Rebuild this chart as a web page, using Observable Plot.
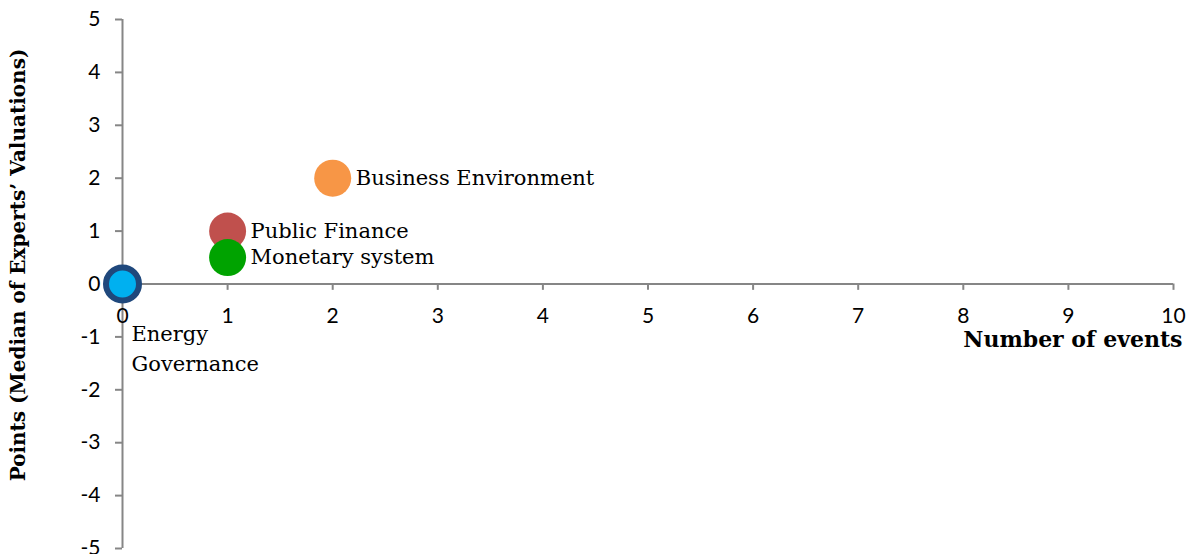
<!DOCTYPE html>
<html><head><meta charset="utf-8">
<script src="https://cdn.jsdelivr.net/npm/d3@7"></script>
<script src="https://cdn.jsdelivr.net/npm/@observablehq/plot@0.6"></script>
<style>body{margin:0;background:#fff}</style>
</head><body><div id="chart"></div>
<script>
const categories = ["Public Finance", "Monetary system", "Business Environment", "Energy Governance"];
const events = [1, 1, 2, 0];
const points = [1, 0.5, 2, 0];
const fills = ["#C0504D", "#00A300", "#F79646", "#00B0F0"];
const labelText = ["Public Finance", "Monetary system", "Business Environment", "Energy\nGovernance"];
const xTicks = [0, 1, 2, 3, 4, 5, 6, 7, 8, 9, 10];
const yTicks = [-5, -4, -3, -2, -1, 0, 1, 2, 3, 4, 5];
const xTitle = "Number of events";
const yTitle = "Points (Median of Experts\u2019 Valuations)";

const data = categories.map((c, i) => ({cat: c, x: events[i], y: points[i], fill: fills[i], label: labelText[i]}));
const rightLabels = data.filter(d => d.cat !== "Energy Governance");
const belowLabels = data.filter(d => d.cat === "Energy Governance");
const serif = "'DejaVu Serif', serif";
const sans = "Lato, 'Open Sans', sans-serif";
const axisGray = "#868686";

const chart = Plot.plot({
  width: 1189,
  height: 554,
  marginLeft: 122,
  marginRight: 16,
  marginTop: 19,
  marginBottom: 6,
  style: {fontFamily: sans, fontSize: "21px", background: "#fff", color: "#000"},
  x: {domain: [0, 10], axis: null},
  y: {domain: [-5, 5], axis: null},
  marks: [
    Plot.axisY(yTicks, {anchor: "left", tickSize: 7, tickPadding: 15, stroke: axisGray, strokeWidth: 2, fill: "#000", fontSize: 21, fontFamily: sans, tickFormat: d => String(d), label: null}),
    Plot.ruleX([0], {y1: -5, y2: 5, stroke: axisGray, strokeWidth: 2}),
    Plot.ruleY([0], {x1: 0, x2: 10, stroke: axisGray, strokeWidth: 2}),
    Plot.ruleX(xTicks, {x: d => d, y1: 0, y2: -0.12, stroke: axisGray, strokeWidth: 2}),
    Plot.text(xTicks, {x: d => d, y: 0, text: d => String(d), dy: 32, fontSize: 21, fontFamily: sans, fill: "#000"}),
    Plot.text([xTitle], {x: 10, y: 0, text: d => d, textAnchor: "end", dx: 9, dy: 56, fontFamily: serif, fontWeight: "bold", fontSize: 22, fill: "#000"}),
    Plot.text([yTitle], {frameAnchor: "left", text: d => d, textAnchor: "middle", rotate: -90, dx: -104, dy: -19, fontFamily: serif, fontWeight: "bold", fontSize: 20, fill: "#000"}),
    Plot.dot(rightLabels, {x: "x", y: "y", r: 18.5, fill: "fill", stroke: "none"}),
    Plot.dot(belowLabels, {x: "x", y: "y", r: 16.5, fill: "fill", stroke: "#1F487C", strokeWidth: 6}),
    Plot.text(rightLabels, {x: "x", y: "y", text: "label", textAnchor: "start", dx: 23, fontFamily: serif, fontSize: 21, fill: "#000"}),
    Plot.text(belowLabels, {x: "x", y: "y", text: "label", textAnchor: "start", lineAnchor: "top", lineHeight: 1.45, dx: 9, dy: 35, fontFamily: serif, fontSize: 21, fill: "#000"})
  ]
});
document.getElementById("chart").append(chart);
</script>
</body></html>
